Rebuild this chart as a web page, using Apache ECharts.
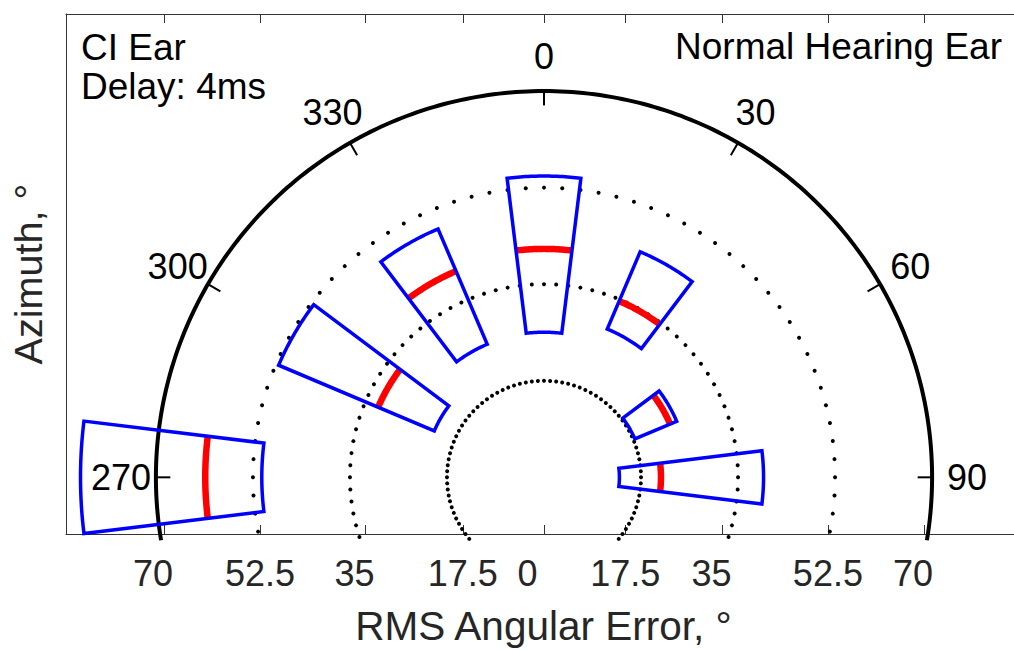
<!DOCTYPE html>
<html>
<head>
<meta charset="utf-8">
<script src="https://cdn.jsdelivr.net/npm/echarts@6/dist/echarts.min.js"></script>
<style>
  html, body { margin: 0; padding: 0; background: #fff; }
  #chart { width: 1014px; height: 651px; }
</style>
</head>
<body>
<div id="chart"></div>
<script>
// Loudspeaker azimuths (deg; negative = left of straight ahead)
const azimuths = [-90, -60, -30, 0, 30, 60, 90];
// RMS angular error per azimuth (deg)
const lowerQuartile = [50.9, 21.5, 26.2, 26.3, 29.2, 17.8, 13.6];
const medianError   = [61.1, 32.5, 40.6, 41.4, 34.7, 24.7, 21.1];
const upperQuartile = [83.6, 52.0, 48.9, 54.6, 44.4, 26.0, 39.6];
// Radial grid rings (deg of error); the last one is the solid outer rim
const radialRings = [17.5, 35, 52.5, 70];
// Azimuth ticks on the outer rim and their labels
const angleTicks = [-90, -60, -30, 0, 30, 60, 90];
const angleTickLabels = ['270', '300', '330', '0', '30', '60', '90'];
// Error tick labels along the bottom edge
const errorTickLabels = ['70', '52.5', '35', '17.5', '0', '17.5', '35', '52.5', '70'];

// ---- layout ----
const W = 1014, H = 651;
const ORIGIN_X = 543.5, ORIGIN_Y = 480;        // polar origin, px
const PX_PER_UNIT = 388.5 / 70;                // same scale on both axes
const GRID = { left: 65, top: 14, right: 0, bottom: 114 };
const X_TICK_PX = [-380.3, -284.2, -178.7, -81.3, 0, 81.3, 178.7, 284.2, 380.3];
const LABEL_SLOTS = 4, SPACE_PX = 11;          // labels padded to 4 characters
const WEDGE_HALF = 7;                          // half angular width of a box, deg
const RING_CUT = -11.4;                        // rings end this far below the origin
const DOTS_PER_RING = 100;
const LABEL_R = 76.3, TICK_LEN = 2.6;
const FONT = '"Liberation Sans", Arial, Helvetica, sans-serif';
const AXIS_COLOR = '#333333', TEXT_COLOR = '#262626';

const xMin = (GRID.left - ORIGIN_X) / PX_PER_UNIT;
const xMax = (W - GRID.right - ORIGIN_X) / PX_PER_UNIT;
const yMin = -(H - GRID.bottom - ORIGIN_Y) / PX_PER_UNIT;
const yMax = (ORIGIN_Y - GRID.top) / PX_PER_UNIT;

// the x title is centred on the polar origin rather than on the (cropped) grid
const titleShift = (ORIGIN_X - 0.5) - (GRID.left + W - GRID.right) / 2;

const xTickValues = X_TICK_PX.map(px => px / PX_PER_UNIT);
const xLabelValues = X_TICK_PX.map((px, i) =>
  (px - (LABEL_SLOTS - errorTickLabels[i].length) * SPACE_PX / 2) / PX_PER_UNIT);

const outerRing = Math.max(...radialRings);
const rad = d => d * Math.PI / 180;
// polar (radius, azimuth clockwise from up) -> cartesian data coordinates
const polar = (r, az) => [r * Math.sin(rad(az)), r * Math.cos(rad(az))];

function arcPoints(api, r, a0, a1, n) {
  const pts = [];
  for (let i = 0; i <= n; i++) pts.push(api.coord(polar(r, a0 + (a1 - a0) * i / n)));
  return pts;
}

function renderRing(params, api) {
  const r = api.value(0);
  const limit = Math.acos(Math.max(-1, RING_CUT / r)) * 180 / Math.PI;
  if (r === outerRing) {
    return {
      type: 'polyline',
      shape: { points: arcPoints(api, r, -limit, limit, 240) },
      style: { stroke: '#000', lineWidth: 4, fill: 'none' }
    };
  }
  const step = 360 / DOTS_PER_RING;
  const kMax = Math.floor(limit / step);
  const children = [];
  for (let k = -kMax; k <= kMax; k++) {
    const p = api.coord(polar(r, k * step));
    children.push({ type: 'circle', shape: { cx: p[0], cy: p[1], r: 2 }, style: { fill: '#000' } });
  }
  return { type: 'group', children };
}

function renderAngleTick(params, api) {
  const az = api.value(0);
  const p0 = api.coord(polar(outerRing, az));
  const p1 = api.coord(polar(outerRing - TICK_LEN, az));
  const pl = api.coord(polar(LABEL_R, az));
  return {
    type: 'group',
    children: [
      { type: 'line', shape: { x1: p0[0], y1: p0[1], x2: p1[0], y2: p1[1] },
        style: { stroke: '#000', lineWidth: 2 } },
      { type: 'text', x: pl[0], y: pl[1],
        style: { text: angleTickLabels[params.dataIndex], fill: '#000',
                 fontSize: 36, fontFamily: FONT,
                 align: 'center', verticalAlign: 'middle',
                 textAlign: 'center', textVerticalAlign: 'middle' } }
    ]
  };
}

function renderWedge(params, api) {
  const az = api.value(0), lo = api.value(1), med = api.value(2), hi = api.value(3);
  const outer = arcPoints(api, hi, az - WEDGE_HALF, az + WEDGE_HALF, 28);
  const inner = arcPoints(api, lo, az + WEDGE_HALF, az - WEDGE_HALF, 28);
  const medArc = arcPoints(api, med, az - WEDGE_HALF, az + WEDGE_HALF, 28);
  return {
    type: 'group',
    children: [
      { type: 'polyline', shape: { points: medArc },
        style: { stroke: '#ff0000', lineWidth: 6.5, fill: 'none' } },
      { type: 'polygon', shape: { points: outer.concat(inner) },
        style: { stroke: '#0000ff', lineWidth: 3.5, fill: 'none', lineJoin: 'miter' } }
    ]
  };
}

const chart = echarts.init(document.getElementById('chart'), null, { renderer: 'svg' });

chart.setOption({
  animation: false,
  backgroundColor: '#ffffff',
  grid: GRID,
  xAxis: [
    {
      type: 'value', min: xMin, max: xMax, position: 'bottom',
      name: 'RMS Angular Error, °', nameLocation: 'middle', nameGap: 71,
      nameTextStyle: { fontSize: 40.5, fontFamily: FONT, color: TEXT_COLOR,
                       padding: [0, 0, 0, 2 * titleShift] },
      axisLine: { show: true, onZero: false, lineStyle: { color: AXIS_COLOR, width: 1 } },
      axisTick: { show: true, inside: true, length: 9, customValues: xTickValues,
                  lineStyle: { color: AXIS_COLOR, width: 1 } },
      axisLabel: {
        show: true, margin: 21, customValues: xLabelValues,
        fontSize: 36, fontFamily: FONT, color: TEXT_COLOR,
        formatter: v => {
          let best = 0;
          xLabelValues.forEach((lv, i) => {
            if (Math.abs(lv - v) < Math.abs(xLabelValues[best] - v)) best = i;
          });
          return errorTickLabels[best];
        }
      },
      splitLine: { show: false }
    },
    {
      type: 'value', min: xMin, max: xMax, position: 'top',
      axisLine: { show: true, onZero: false, lineStyle: { color: AXIS_COLOR, width: 1 } },
      axisTick: { show: true, inside: true, length: 9, customValues: xTickValues,
                  lineStyle: { color: AXIS_COLOR, width: 1 } },
      axisLabel: { show: false },
      splitLine: { show: false }
    }
  ],
  yAxis: {
    type: 'value', min: yMin, max: yMax,
    name: 'Azimuth, °', nameLocation: 'middle', nameGap: 18,
    nameTextStyle: { fontSize: 39.6, fontFamily: FONT, color: TEXT_COLOR },
    axisLine: { show: true, onZero: false, lineStyle: { color: AXIS_COLOR, width: 1 } },
    axisTick: { show: false },
    axisLabel: { show: false },
    splitLine: { show: false }
  },
  graphic: [
    { type: 'text', x: 81, y: 47,
      style: { text: 'CI Ear', fontSize: 37, fontFamily: FONT, fill: '#000',
               align: 'left', verticalAlign: 'middle', textAlign: 'left', textVerticalAlign: 'middle' } },
    { type: 'text', x: 81, y: 86,
      style: { text: 'Delay: 4ms', fontSize: 37, fontFamily: FONT, fill: '#000',
               align: 'left', verticalAlign: 'middle', textAlign: 'left', textVerticalAlign: 'middle' } },
    { type: 'text', x: 1002, y: 46,
      style: { text: 'Normal Hearing Ear', fontSize: 37, fontFamily: FONT, fill: '#000',
               align: 'right', verticalAlign: 'middle', textAlign: 'right', textVerticalAlign: 'middle' } }
  ],
  series: [
    {
      type: 'custom', name: 'rings', silent: true,
      renderItem: renderRing,
      data: radialRings.map(r => [r, 0])
    },
    {
      type: 'custom', name: 'azimuth ticks', silent: true,
      renderItem: renderAngleTick,
      data: angleTicks.map(a => [a, 0])
    },
    {
      type: 'custom', name: 'error boxes',
      renderItem: renderWedge,
      data: azimuths.map((a, i) => [a, lowerQuartile[i], medianError[i], upperQuartile[i]])
    }
  ]
});
</script>
</body>
</html>
